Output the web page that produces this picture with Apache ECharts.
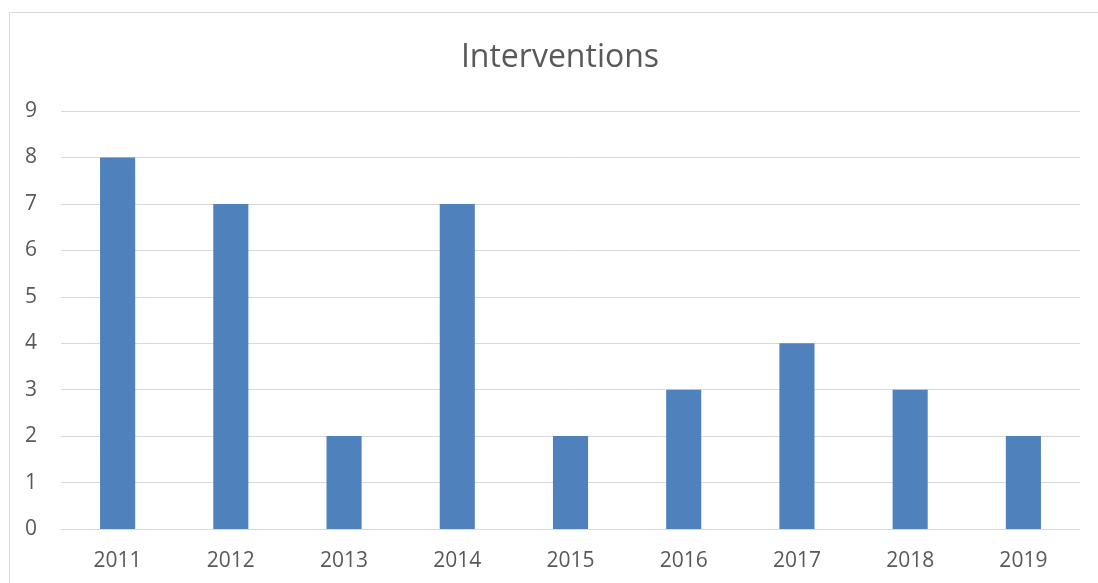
<!DOCTYPE html>
<html>
<head>
<meta charset="utf-8">
<script src="https://cdn.jsdelivr.net/npm/echarts@6/dist/echarts.min.js"></script>
<style>
html,body{margin:0;padding:0;background:#fff;}
#chart{width:1098px;height:583px;}
</style>
</head>
<body>
<div id="chart"></div>
<script>
var categories = ['2011','2012','2013','2014','2015','2016','2017','2018','2019'];
var interventions = [8,7,2,7,2,3,4,3,2];
var titleText = 'Interventions';

var chart = echarts.init(document.getElementById('chart'));
chart.setOption({
  animation: false,
  backgroundColor: '#ffffff',
  title: {
    text: titleText,
    left: 555,
    top: 37,
    textAlign: 'center',
    textStyle: {fontFamily: 'Open Sans', fontSize: 32, fontWeight: 'normal', color: '#595959'}
  },
  graphic: [{
    type: 'rect',
    shape: {x: 9.5, y: 12.5, width: 1200, height: 700},
    style: {fill: 'none', stroke: '#d9d9d9', lineWidth: 1},
    silent: true, z: -1
  }],
  grid: {left: 61, right: 18, top: 111, bottom: 54, containLabel: false},
  xAxis: {
    type: 'category',
    data: categories,
    axisTick: {show: false},
    axisLine: {show: true, lineStyle: {color: '#d9d9d9', width: 1}},
    axisLabel: {fontFamily: 'Open Sans', fontSize: 21, color: '#595959', margin: 22}
  },
  yAxis: {
    type: 'value',
    min: 0, max: 9, interval: 1,
    axisLine: {show: false},
    axisTick: {show: false},
    splitLine: {lineStyle: {color: '#d9d9d9', width: 1}},
    axisLabel: {fontFamily: 'Open Sans', fontSize: 21, color: '#595959', margin: 24}
  },
  series: [{
    type: 'bar',
    data: interventions,
    barWidth: '31%',
    itemStyle: {color: '#4f81bd'}
  }]
});
</script>
</body>
</html>
